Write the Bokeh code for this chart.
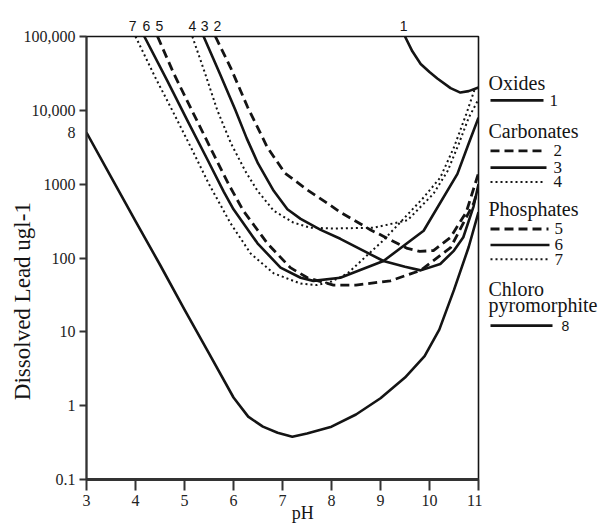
import math
from bokeh.plotting import figure
from bokeh.models import Range1d, FixedTicker, CustomJSTickFormatter, LinearAxis, LogAxis
from bokeh.layouts import row
from bokeh.embed import file_html
from bokeh.resources import INLINE
from bokeh.core.properties import value

# ---------------- data (pH vs dissolved lead, ug/l) ----------------
ph_1 = [9.5, 9.65, 9.82, 10.0, 10.16, 10.43, 10.63, 10.8, 11.0]
pb_1 = [100000, 63000, 42500, 33000, 27000, 20000, 17400, 18200, 20400]

ph_2 = [5.63, 5.94, 6.29, 6.69, 7.05, 7.51, 7.92, 8.18, 8.8, 9.55, 9.8, 10.08, 10.43, 10.75, 11.0]
pb_2 = [100000, 38000, 11000, 3160, 1410, 832, 550, 417, 240, 135, 123, 126, 191, 417, 1410]

ph_3 = [5.39, 5.72, 6.04, 6.27, 6.5, 6.82, 7.1, 7.37, 7.78, 8.18, 9.06, 9.5, 9.82, 10.22, 10.5, 10.69, 10.9, 11.0]
pb_3 = [100000, 31600, 10000, 4170, 1910, 813, 457, 339, 240, 182, 91, 76, 68, 83, 126, 191, 501, 1000]

ph_4 = [5.16, 5.42, 5.67, 5.95, 6.24, 6.49, 6.82, 7.22, 7.57, 8.04, 8.86, 9.55, 10.08, 10.37, 10.6, 10.8, 11.0]
pb_4 = [100000, 31600, 10000, 3550, 1510, 813, 437, 302, 257, 251, 257, 324, 741, 1510, 3550, 7940, 14100]

ph_5 = [4.45, 4.78, 5.18, 5.59, 5.9, 6.2, 6.69, 7.16, 7.51, 8.04, 8.5, 9.2, 9.82, 10.43, 10.9, 11.0]
pb_5 = [100000, 31600, 9120, 2570, 1000, 437, 158, 74, 54, 43, 43, 49, 68, 138, 550, 890]

ph_6 = [4.18, 4.65, 5.06, 5.47, 5.8, 6.0, 6.49, 6.96, 7.37, 7.63, 8.18, 9.06, 9.88, 10.57, 10.8, 11.0]
pb_6 = [100000, 25100, 7240, 2140, 794, 457, 158, 74, 54, 49, 54, 91, 234, 1380, 3550, 7940]

ph_7 = [4.0, 4.4, 4.75, 5.16, 5.5, 5.94, 6.35, 6.82, 7.37, 7.7, 8.0, 8.33, 9.06, 9.88, 10.22, 10.5, 10.75, 10.93]
pb_7 = [100000, 28200, 10000, 2880, 1000, 295, 115, 62, 45, 43, 48, 62, 174, 660, 1230, 3160, 8900, 20000]

ph_8 = [3.0, 3.5, 4.0, 4.5, 5.0, 5.5, 6.0, 6.3, 6.6, 6.9, 7.2, 7.5, 8.0, 8.5, 9.0, 9.5, 9.9, 10.2, 10.5, 10.8, 11.0]
pb_8 = [5000, 1260, 316, 81, 20, 5.1, 1.29, 0.71, 0.52, 0.43, 0.38, 0.42, 0.52, 0.76, 1.26, 2.4, 4.7, 10.7, 37, 141, 417]

curve_names = ["1", "2", "3", "4", "5", "6", "7", "8"]
curve_styles = ["solid", "dashed", "solid", "dotted", "dashed", "solid", "dotted", "solid"]
# pH at which the numbers 1..7 are printed above the plot
top_label_ph = [9.47, 5.67, 5.41, 5.16, 4.49, 4.22, 3.94]
groups = ["Oxides", "Carbonates", "Phosphates", "Chloro\npyromorphite"]

x_ticks = [3, 4, 5, 6, 7, 8, 9, 10, 11]
y_ticks = [0.1, 1, 10, 100, 1000, 10000, 100000]
y_tick_labels = ["0.1", "1", "10", "100", "1000", "10,000", "100,000"]

x_title = "pH"
y_title = "Dissolved Lead ugl-1"

# ---------------- styles ----------------
INK = "#141414"
SERIF = "Liberation Serif"
SANS = "Liberation Sans"
NB = "\u00a0"
dash_of = {"solid": "solid", "dashed": "9 5", "dotted": "2 3"}
width_of = {"solid": 2.6, "dashed": 2.8, "dotted": 2.0}

series = [(ph_1, pb_1), (ph_2, pb_2), (ph_3, pb_3), (ph_4, pb_4),
          (ph_5, pb_5), (ph_6, pb_6), (ph_7, pb_7), (ph_8, pb_8)]

p = figure(width=482, height=527, x_range=Range1d(x_ticks[0], x_ticks[-1]),
           y_range=Range1d(y_ticks[0], y_ticks[-1]), y_axis_type="log",
           output_backend="svg", toolbar_location=None,
           min_border_left=86, min_border_right=4, min_border_top=36, min_border_bottom=48)
p.background_fill_color = "white"
p.border_fill_color = "white"
p.grid.visible = False
p.outline_line_color = INK
p.outline_line_width = 1.6

# x axis
xa = p.xaxis[0]
xa.ticker = FixedTicker(ticks=x_ticks)
xa.major_label_text_font = SERIF
xa.major_label_text_font_size = "16px"
xa.major_label_text_font_style = "normal"
xa.major_label_text_color = "#222222"
xa.axis_line_color = "#333333"
xa.axis_line_width = 3
xa.major_tick_line_color = "#333333"
xa.major_tick_line_width = 2
xa.major_tick_in = 0
xa.major_tick_out = 11
xa.minor_tick_line_color = None
xa.major_label_standoff = 4
xa.axis_label = NB * 9 + x_title
xa.axis_label_text_font = SERIF
xa.axis_label_text_font_size = "18px"
xa.axis_label_text_font_style = "normal"
xa.axis_label_text_color = INK
xa.axis_label_standoff = -6

# y axis, inner part: tick marks only
ya = p.yaxis[0]
ya.ticker = FixedTicker(ticks=y_ticks)
ya.formatter = CustomJSTickFormatter(code="return '';")
ya.axis_line_color = "#333333"
ya.axis_line_width = 2
ya.major_tick_line_color = "#333333"
ya.major_tick_line_width = 2
ya.major_tick_in = 0
ya.major_tick_out = 7
ya.minor_tick_line_color = None
ya.major_label_standoff = 0

# y axis, outer part: decade labels, the number of curve 8 and the title
lab_vals = y_ticks + [pb_8[0]]
lab_text = y_tick_labels + [curve_names[7]]
yb = LogAxis(
    ticker=FixedTicker(ticks=lab_vals),
    formatter=CustomJSTickFormatter(
        args=dict(vals=lab_vals, labs=lab_text),
        code="const i = vals.findIndex(v => Math.abs(v - tick) <= 1e-6 * v); return i >= 0 ? labs[i] : '';"),
    axis_line_color=None, major_tick_line_color=None, minor_tick_line_color=None,
    major_tick_in=0, major_tick_out=0, major_label_standoff=4,
    major_label_text_font=SERIF, major_label_text_font_size="16px",
    major_label_text_font_style="normal", major_label_text_color="#222222",
    axis_label=y_title + NB * 15, axis_label_text_font=SERIF, axis_label_text_font_size="23px",
    axis_label_text_font_style="normal", axis_label_text_color=INK, axis_label_standoff=-14)
p.add_layout(yb, "left")

for (ph, pb), style in zip(series, curve_styles):
    p.line(ph, pb, line_color=INK, line_width=width_of[style],
           line_dash=dash_of[style], line_join="round")

# curve numbers along the top
top_axis = LinearAxis(
    ticker=FixedTicker(ticks=top_label_ph),
    formatter=CustomJSTickFormatter(
        args=dict(vals=top_label_ph, labs=curve_names[:7]),
        code="const i = vals.findIndex(v => Math.abs(v - tick) < 1e-6); return i >= 0 ? labs[i] : '';"),
    axis_line_color=None, major_tick_line_color=None, minor_tick_line_color=None,
    major_tick_in=0, major_tick_out=0,
    major_label_text_font=SANS, major_label_text_font_size="14px",
    major_label_text_color=INK, major_label_standoff=6)
p.add_layout(top_axis, "above")

# ---------------- key panel ----------------
lg = figure(width=121, height=527, x_range=Range1d(482, 603), y_range=Range1d(527, 0),
            output_backend="svg", toolbar_location=None, min_border=0,
            x_axis_location=None, y_axis_location=None)
lg.grid.visible = False
lg.outline_line_color = None
lg.background_fill_color = "white"
lg.border_fill_color = "white"

head_y = [55, 113, 205, 300]
row_y = [76, 136, 156, 173, 229, 248, 265, 344]
row_x1 = [543, 545, 546, 545, 548, 549, 548, 552]
row_tx = [549, 553, 553, 553, 554, 554, 554, 561]

for g, y in zip(groups, head_y):
    for k, part in enumerate(g.split("\n")):
        lg.text(x=[488], y=[y + 20 * k], text=[part], text_font=value(SERIF),
                text_font_size="20px", text_color=INK, text_baseline="middle", text_align="left")

for name, style, y, x1, tx in zip(curve_names, curve_styles, row_y, row_x1, row_tx):
    lg.segment(x0=[490], y0=[y], x1=[x1], y1=[y], line_color=INK,
               line_width=width_of[style], line_dash=dash_of[style])
    lg.text(x=[tx], y=[y], text=[name], text_font=value(SANS if name == "8" else SERIF),
            text_font_size="14px" if name == "8" else "17px", text_color=INK,
            text_baseline="middle", text_align="left")

layout = row(p, lg)
open("out.html", "w").write(file_html(layout, INLINE))
